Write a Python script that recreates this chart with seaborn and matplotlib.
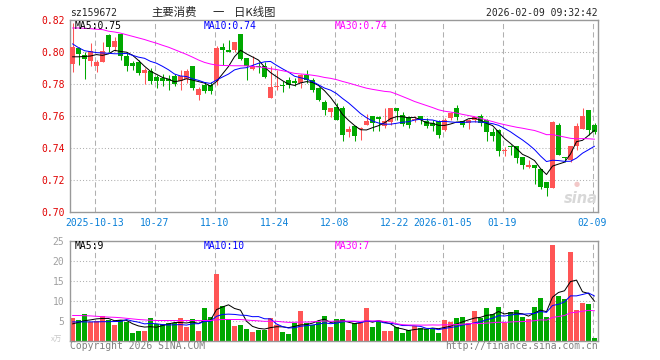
import numpy as np
import pandas as pd
import matplotlib
matplotlib.use("Agg")
import matplotlib.pyplot as plt
import seaborn as sns

# ---------------- data ----------------
opens = [0.7927, 0.8027, 0.7983, 0.7941, 0.7914, 0.7935, 0.8108, 0.8033, 0.8113, 0.7977,
         0.7931, 0.7935, 0.7869, 0.7883, 0.7841, 0.7837, 0.7833, 0.7848, 0.7820, 0.7833,
         0.7910, 0.7733, 0.7796, 0.7796, 0.7819, 0.8031, 0.8010, 0.8014, 0.8113, 0.7962,
         0.7896, 0.7914, 0.7910, 0.7713, 0.7781, 0.7796, 0.7827, 0.7821, 0.7806, 0.7858,
         0.7827, 0.7775, 0.7685, 0.7627, 0.7656, 0.7650, 0.7498, 0.7535, 0.7517, 0.7546,
         0.7600, 0.7596, 0.7535, 0.7560, 0.7650, 0.7604, 0.7596, 0.7573, 0.7600, 0.7571,
         0.7554, 0.7566, 0.7514, 0.7587, 0.7650, 0.7566, 0.7556, 0.7573, 0.7598, 0.7577,
         0.7498, 0.7514, 0.7381, 0.7408, 0.7410, 0.7341, 0.7281, 0.7296, 0.7269, 0.7185,
         0.7150, 0.7546, 0.7339, 0.7323, 0.7410, 0.7519, 0.7639, 0.7546]
highs = [0.8180, 0.8030, 0.8000, 0.8056, 0.7952, 0.8060, 0.8110, 0.8091, 0.8113, 0.8000,
         0.7941, 0.7952, 0.7900, 0.7900, 0.7858, 0.7864, 0.7858, 0.7862, 0.7885, 0.7895,
         0.7910, 0.7781, 0.7810, 0.7810, 0.8035, 0.8056, 0.8077, 0.8060, 0.8113, 0.7962,
         0.7973, 0.7935, 0.7935, 0.7910, 0.7890, 0.7821, 0.7846, 0.7837, 0.7864, 0.7890,
         0.7837, 0.7780, 0.7702, 0.7652, 0.7679, 0.7660, 0.7535, 0.7535, 0.7531, 0.7614,
         0.7602, 0.7602, 0.7650, 0.7650, 0.7650, 0.7627, 0.7602, 0.7600, 0.7602, 0.7585,
         0.7573, 0.7575, 0.7585, 0.7627, 0.7669, 0.7570, 0.7581, 0.7596, 0.7614, 0.7581,
         0.7525, 0.7516, 0.7406, 0.7420, 0.7415, 0.7344, 0.7323, 0.7296, 0.7269, 0.7185,
         0.7566, 0.7556, 0.7346, 0.7410, 0.7556, 0.7650, 0.7640, 0.7556]
lows = [0.7875, 0.7920, 0.7831, 0.7910, 0.7873, 0.7935, 0.8000, 0.8004, 0.7952, 0.7879,
        0.7885, 0.7858, 0.7800, 0.7800, 0.7775, 0.7785, 0.7764, 0.7787, 0.7764, 0.7806,
        0.7764, 0.7702, 0.7744, 0.7735, 0.7794, 0.7921, 0.8000, 0.8000, 0.7952, 0.7827,
        0.7890, 0.7870, 0.7835, 0.7713, 0.7764, 0.7748, 0.7775, 0.7787, 0.7775, 0.7806,
        0.7748, 0.7695, 0.7606, 0.7591, 0.7573, 0.7441, 0.7466, 0.7441, 0.7452, 0.7541,
        0.7504, 0.7504, 0.7523, 0.7546, 0.7577, 0.7535, 0.7523, 0.7562, 0.7552, 0.7523,
        0.7504, 0.7462, 0.7504, 0.7577, 0.7577, 0.7530, 0.7520, 0.7562, 0.7540, 0.7441,
        0.7441, 0.7352, 0.7352, 0.7358, 0.7306, 0.7269, 0.7275, 0.7177, 0.7144, 0.7102,
        0.7150, 0.7355, 0.7315, 0.7315, 0.7390, 0.7519, 0.7479, 0.7490]
closes = [0.8033, 0.7985, 0.7956, 0.8008, 0.7937, 0.8008, 0.8033, 0.8066, 0.7973, 0.7914,
          0.7914, 0.7869, 0.7885, 0.7816, 0.7820, 0.7816, 0.7816, 0.7800, 0.7852, 0.7879,
          0.7775, 0.7769, 0.7754, 0.7754, 0.8027, 0.8010, 0.8002, 0.8060, 0.7956, 0.7914,
          0.7914, 0.7904, 0.7844, 0.7781, 0.7785, 0.7790, 0.7796, 0.7804, 0.7858, 0.7827,
          0.7764, 0.7702, 0.7639, 0.7652, 0.7573, 0.7483, 0.7519, 0.7477, 0.7519, 0.7566,
          0.7554, 0.7581, 0.7566, 0.7650, 0.7629, 0.7552, 0.7546, 0.7581, 0.7575, 0.7535,
          0.7535, 0.7483, 0.7577, 0.7619, 0.7596, 0.7546, 0.7577, 0.7594, 0.7556, 0.7498,
          0.7477, 0.7379, 0.7385, 0.7404, 0.7337, 0.7296, 0.7296, 0.7275, 0.7154, 0.7150,
          0.7560, 0.7358, 0.7335, 0.7410, 0.7535, 0.7602, 0.7510, 0.7498]
volumes = [5.7, 5.3, 6.7, 4.6, 5.0, 6.2, 5.3, 3.9, 5.3, 4.75,
           2.0, 2.5, 2.5, 5.75, 4.1, 4.1, 4.4, 4.4, 5.75, 3.5,
           5.4, 2.5, 8.25, 6.0, 16.7, 8.7, 5.2, 3.7, 3.9, 2.9,
           2.2, 2.75, 2.8, 5.7, 4.0, 2.1, 1.7, 4.4, 7.5, 4.4,
           4.0, 4.8, 6.2, 3.4, 5.4, 5.4, 2.7, 4.4, 4.4, 8.2,
           3.4, 4.8, 2.35, 2.35, 3.35, 1.9, 2.75, 3.6, 3.2, 3.05,
           3.2, 1.9, 5.2, 4.8, 5.7, 5.9, 4.4, 7.5, 5.7, 8.2,
           6.7, 8.4, 4.4, 7.2, 7.8, 5.9, 5.4, 8.4, 10.7, 5.9,
           24.0, 11.3, 10.5, 22.2, 7.75, 9.4, 9.2, 0.7]

# moving-average values before a full window exists
ma5_head = [0.7970, 0.7970, 0.7972, 0.7975]
ma10_head = [0.8051, 0.8027, 0.8008, 0.8002, 0.7996, 0.7994, 0.7992, 0.7989, 0.7989]
ma30_head = [0.8150, 0.8150, 0.8148, 0.8146, 0.8142, 0.8140, 0.8130, 0.8125, 0.8118, 0.8108,
             0.8098, 0.8088, 0.8078, 0.8066, 0.8055, 0.8042, 0.8030, 0.8015, 0.8000, 0.7985,
             0.7968, 0.7950, 0.7935, 0.7925, 0.7918, 0.7916, 0.7915, 0.7914, 0.7914]
vma5_head = [4.2, 4.6, 5.0, 5.2]
vma10_head = [4.7, 4.7, 4.7, 4.7, 4.7, 4.75, 4.75, 4.8, 4.8]
vma30_head = [6.3, 6.3, 6.25, 6.2, 6.1, 6.0, 5.9, 5.85, 5.75, 5.6,
              5.45, 5.3, 5.2, 5.1, 5.05, 5.05, 5.05, 5.05, 5.05, 5.05,
              5.05, 5.05, 5.05, 5.05, 5.2, 5.3, 5.3, 5.3, 5.3]

tick_idx = [4, 14, 24, 34, 44, 54, 62, 72, 87]
tick_labels = ["2025-10-13", "10-27", "11-10", "11-24", "12-08", "12-22",
               "2026-01-05", "01-19", "02-09"]
price_ticks = [0.70, 0.72, 0.74, 0.76, 0.78, 0.80, 0.82]
vol_ticks = [5, 10, 15, 20, 25]

title_code = "sz159672"
title_parts = ["主要消费", "一", "日K线图"]
stamp = "2026-02-09 09:32:42"
price_ma_text = ["MA5:0.75", "MA10:0.74", "MA30:0.74"]
vol_ma_text = ["MA5:9", "MA10:10", "MA30:7"]

# ---------------- build frame ----------------
n = len(closes)
df = pd.DataFrame({"o": opens, "h": highs, "l": lows, "c": closes, "v": volumes})
df["x"] = np.arange(n) + 5 / 12


def ma(series, w, head):
    m = series.rolling(w).mean()
    m.iloc[:len(head)] = head
    return m


df["ma5"] = ma(df["c"], 5, ma5_head)
df["ma10"] = ma(df["c"], 10, ma10_head)
df["ma30"] = ma(df["c"], 30, ma30_head)
df["vma5"] = ma(df["v"], 5, vma5_head)
df["vma10"] = ma(df["v"], 10, vma10_head)
df["vma30"] = ma(df["v"], 30, vma30_head)

RED = "#ff5555"
GREEN = "#00a800"
GRID = "#b0b0b0"
SPINE = "#999999"
MONO = "DejaVu Sans Mono"
CJK = ["Noto Sans CJK SC", "DejaVu Sans"]

sns.set_style("white")
plt.rcParams["font.family"] = ["DejaVu Sans Mono", "Noto Sans CJK SC"]

W, H = 660, 360
fig = plt.figure(figsize=(W / 100, H / 100), dpi=100)
fig.patch.set_facecolor("white")

ax1 = fig.add_axes([70 / W, 1 - 212 / H, 528 / W, 192 / H])
ax2 = fig.add_axes([70 / W, 1 - 340.7 / H, 528 / W, 100 / H])

colors = [RED if c >= o else GREEN for o, c in zip(opens, closes)]

for ax in (ax1, ax2):
    ax.set_xlim(0, n)
    for s in ax.spines.values():
        s.set_color(SPINE)
        s.set_linewidth(1.0)
    for t in tick_idx:
        ax.axvline(t + 1 / 12, color=GRID, lw=0.75, ls=(0, (5, 3)), zorder=0)

# horizontal grids
for p in price_ticks[1:-1]:
    ax1.axhline(p, color=GRID, lw=0.75, ls=(0, (1, 2)), zorder=0)
for v in vol_ticks[:-1]:
    ax2.axhline(v, color=GRID, lw=0.75, ls=(0, (1, 2)), zorder=0)

# candles
body_min = 0.12 / 192
for i in range(n):
    o, h, l, c = opens[i], highs[i], lows[i], closes[i]
    ax1.vlines(df["x"][i], l, h, color=colors[i], lw=0.75, zorder=2)
    ax1.bar(i, max(abs(c - o), body_min), bottom=min(o, c), width=5 / 6,
            align="edge", color=colors[i], lw=0, zorder=3)

ax2.bar(np.arange(n), df["v"], width=5 / 6, align="edge", color=colors, lw=0, zorder=2)

# moving averages
for col, colr in (("ma5", "black"), ("ma10", "#0000ff"), ("ma30", "#ff00ff")):
    sns.lineplot(data=df, x="x", y=col, ax=ax1, color=colr, lw=0.72, zorder=4)
for col, colr in (("vma5", "black"), ("vma10", "#0000ff"), ("vma30", "#ff00ff")):
    sns.lineplot(data=df, x="x", y=col, ax=ax2, color=colr, lw=0.72, zorder=4)

ax1.set_ylim(0.70, 0.82)
ax2.set_ylim(0, 25)
for ax in (ax1, ax2):
    ax.set_xlabel("")
    ax.set_ylabel("")

ax1.set_yticks(price_ticks)
ax1.set_yticklabels([f"{p:.2f}" for p in price_ticks], color="#e00000",
                    fontfamily=MONO, fontsize=7)
ax1.set_xticks([t + 1 / 12 for t in tick_idx])
ax1.set_xticklabels(tick_labels, color="#0a80d8", fontfamily=MONO, fontsize=7)
ax1.tick_params(axis="both", length=0)
ax1.tick_params(axis="y", pad=4)
ax1.tick_params(axis="x", pad=4)

ax2.set_yticks(vol_ticks)
ax2.set_yticklabels([str(v) for v in vol_ticks], color="#a0a0a0",
                    fontfamily=MONO, fontsize=7)
ax2.set_xticks([])
ax2.tick_params(axis="both", length=0)
ax2.tick_params(axis="y", pad=4)


def ftext(x, y, s, **kw):
    fig.text(x / W, 1 - y / H, s, **kw)


ftext(70, 12.5, title_code, fontfamily=MONO, fontsize=7, va="center", ha="left")
for xc, part in zip([174.5, 218, 254.5], title_parts):
    ftext(xc, 12.5, part, family=CJK, fontsize=8.2, va="center", ha="center")
ftext(597.5, 12.5, stamp, fontfamily=MONO, fontsize=7, va="center", ha="right")

ma_x = [75, 204, 334.5]
ma_c = ["black", "#0000ff", "#ff00ff"]
for x, s, c in zip(ma_x, price_ma_text, ma_c):
    ftext(x, 26.3, s, fontfamily=MONO, fontsize=7, va="center", ha="left", color=c)
for x, s, c in zip(ma_x, vol_ma_text, ma_c):
    ftext(x, 246.3, s, fontfamily=MONO, fontsize=7, va="center", ha="left", color=c)

ftext(70, 346, "Copyright 2026 SINA.COM", fontfamily=MONO, fontsize=7,
      va="center", ha="left", color="#808080")
ftext(597.5, 346, "http://finance.sina.com.cn", fontfamily=MONO, fontsize=7,
      va="center", ha="right", color="#808080")
ftext(57, 340, "x万", family=CJK, fontsize=5.5, va="center", ha="center", color="#c8c8c8")

# watermark
ftext(581, 198, "sina", fontfamily="DejaVu Sans", fontsize=10.5, fontweight="bold",
      fontstyle="italic", va="center", ha="center", color="#d8d8d8")
ftext(577, 184, "●", fontfamily="DejaVu Sans", fontsize=5, va="center", ha="center",
      color="#f2c8c8")

fig.savefig("out.png", dpi=100, facecolor="white")
